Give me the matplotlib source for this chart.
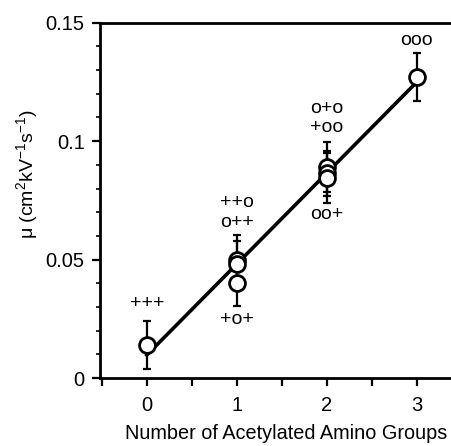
import matplotlib
matplotlib.use("Agg")
import matplotlib.pyplot as plt
from matplotlib.ticker import MultipleLocator, FixedLocator

plt.rcParams['font.family'] = ['Liberation Sans', 'DejaVu Sans']
plt.rcParams['mathtext.fontset'] = 'custom'
plt.rcParams['mathtext.rm'] = 'Liberation Sans'

# data
x_vals = [0, 1, 1, 1, 2, 2, 2, 3]
mu_vals = [0.014, 0.050, 0.048, 0.040, 0.089, 0.0865, 0.0845, 0.127]
mu_err = [0.010, 0.0105, 0.010, 0.0095, 0.0105, 0.0095, 0.0105, 0.010]
fit_x = [0, 3]
fit_y = [0.0097, 0.1250]
labels = ["+++", "++o", "o++", "+o+", "o+o", "+oo", "oo+", "ooo"]
label_x = [0, 1, 1, 1, 2, 2, 2, 3]
label_y = [0.0316, 0.0740, 0.0656, 0.0245, 0.1139, 0.1057, 0.0692, 0.1424]
xticks = [0, 1, 2, 3]
yticks = [0, 0.05, 0.1, 0.15]
ytick_labels = ["0", "0.05", "0.1", "0.15"]

fig = plt.figure(figsize=(4.52, 4.46), dpi=100)
ax = fig.add_axes([100/452, 1 - 378/446, 352/452, (378 - 22.7)/446])

ax.plot(fit_x, fit_y, color='black', lw=2.6, zorder=2)
ax.errorbar(x_vals, mu_vals, yerr=mu_err, fmt='none', ecolor='black',
            elinewidth=1.6, capsize=3, capthick=1.6, zorder=1)
ax.scatter(x_vals, mu_vals, s=130, facecolor='white', edgecolor='black',
           linewidth=2.0, zorder=3)

for t, lx, ly in zip(labels, label_x, label_y):
    ax.text(lx, ly, t, ha='center', va='center', fontsize=14)

ax.set_xlim(-0.52, 3.39)
ax.set_ylim(0, 0.15)
ax.xaxis.set_major_locator(FixedLocator(xticks))
ax.xaxis.set_minor_locator(FixedLocator([-0.5, 0.5, 1.5, 2.5]))
ax.yaxis.set_major_locator(FixedLocator(yticks))
ax.set_yticklabels(ytick_labels)
ax.yaxis.set_minor_locator(MultipleLocator(0.01))

for side in ['left', 'bottom', 'top']:
    ax.spines[side].set_linewidth(2.0)
ax.spines['right'].set_visible(False)

ax.tick_params(axis='x', which='both', direction='out', length=6, width=1.6,
               labelsize=14.5, pad=7)
ax.tick_params(axis='y', which='major', direction='out', length=6, width=1.6,
               labelsize=14.5, pad=5)
ax.tick_params(axis='y', which='minor', direction='out', length=3, width=1.2)

ax.set_xlabel("Number of Acetylated Amino Groups", fontsize=14.3)
ax.xaxis.set_label_coords(0.528, -0.155)
ax.xaxis.label.set_va('center')
ax.set_ylabel(r"μ (cm$^{2}$kV$^{-1}$s$^{-1}$)", fontsize=14)
ax.yaxis.set_label_coords(-0.205, 0.574)
ax.yaxis.label.set_va('center')

fig.savefig("out.png", dpi=100)
